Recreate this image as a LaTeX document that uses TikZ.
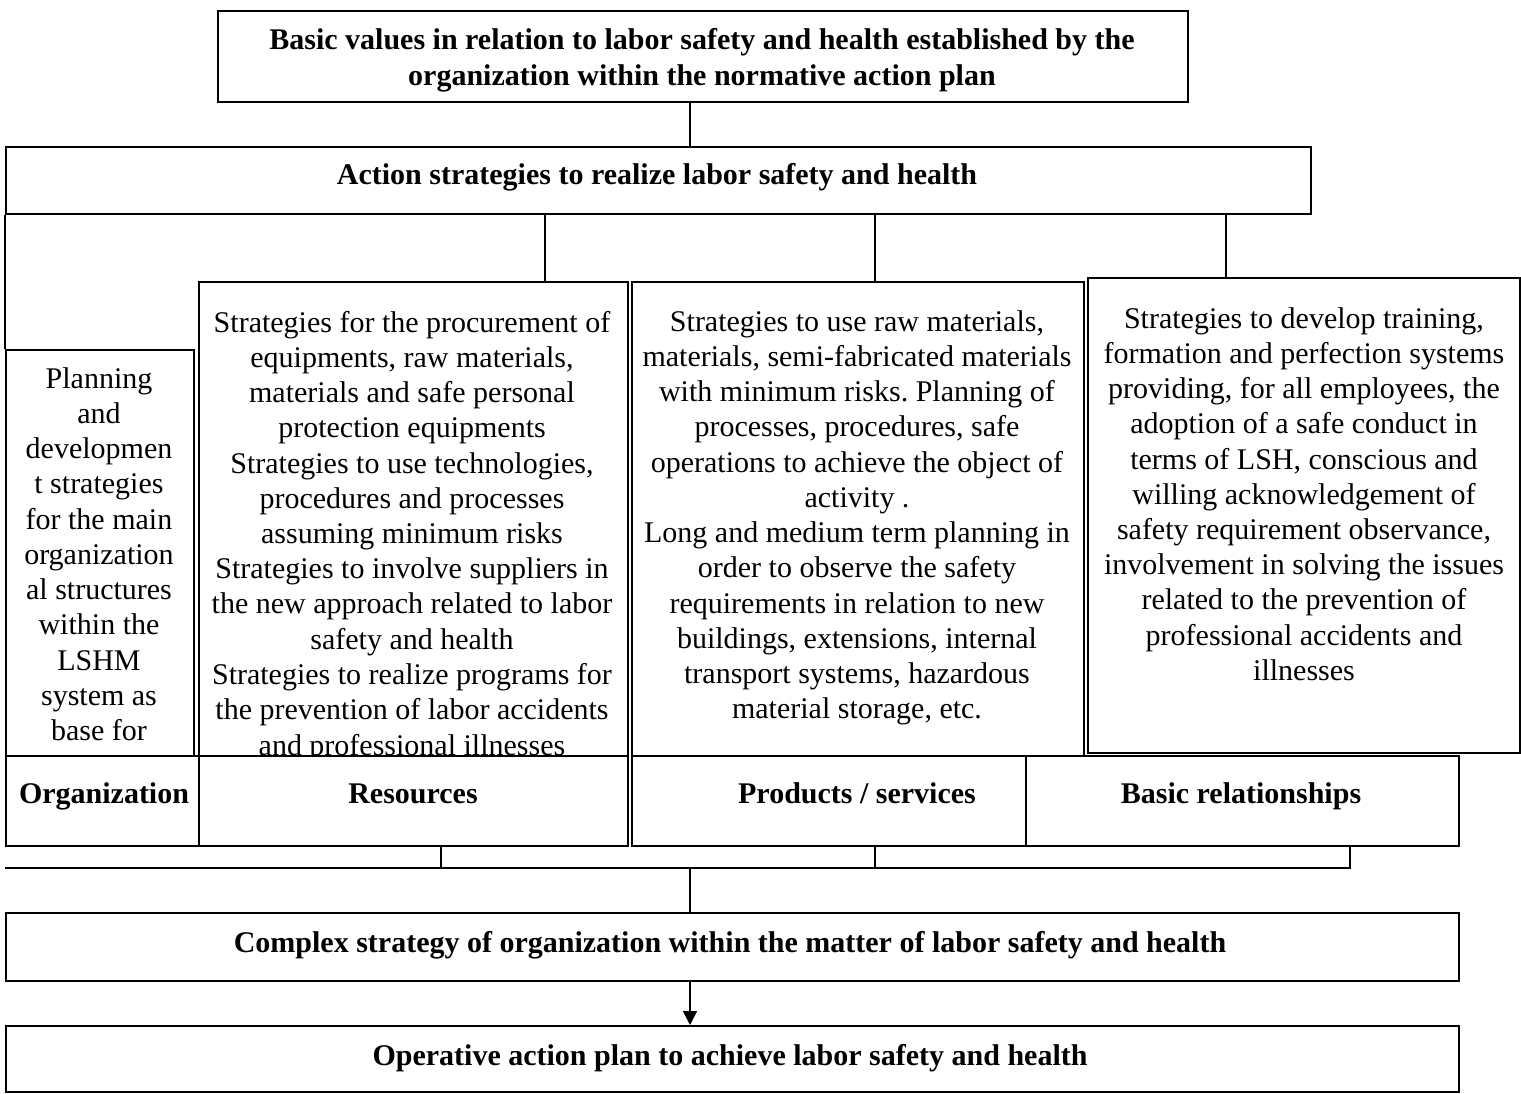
\documentclass[tikz,border=0pt]{standalone}
\usepackage{fontspec}
\setmainfont{Liberation Serif}
\frenchspacing
\usetikzlibrary{positioning}
\usetikzlibrary{arrows.meta}

\tikzset{
  blk/.style={draw, rectangle, line width=1.6pt, inner sep=0pt, anchor=north west},
  lbl/.style={blk, fill=white},
  txt/.style={inner sep=0pt, align=flush center, anchor=base, font=\fontsize{30}{35.25}\selectfont},
  head/.style={txt, font=\fontsize{30}{35.25}\selectfont\bfseries},
  link/.style={line width=1.6pt}
}

\begin{document}
\begin{tikzpicture}[x=1pt, y=-1pt]
    \useasboundingbox (0,0) rectangle (1521,1094);

    % top of the chain
    \node[blk, minimum width=970pt, minimum height=91pt] (values) at (217,10) {};
    \node[head, text width=960pt] (valuesTxt) at (702,50)
        {Basic values in relation to labor safety and health established by the\\
         organization within the normative action plan};
    \node[blk, minimum width=1305pt, minimum height=67pt] (act) at (5,146) {};
    \node[head] (actTxt) at (657,185) {Action strategies to realize labor safety and health};

    % the four strategy columns
    \node[blk, minimum width=188pt, minimum height=406pt] (plan) at (5,349) {};
    \node[txt, text width=180pt] (planTxt) at (99,388)
        {Planning\\ and\\ developmen\\ t strategies\\ for the main\\ organization\\
         al structures\\ within the\\ LSHM\\ system as\\ base for};
    \node[blk, minimum width=429pt, minimum height=564pt] (res) at (198,281) {};
    \node[txt, text width=425pt] (resTxt) at (412,332)
        {Strategies for the procurement of\\ equipments, raw materials,\\
         materials and safe personal\\ protection equipments\\
         Strategies to use technologies,\\ procedures and processes\\
         assuming minimum risks\\ Strategies to involve suppliers in\\
         the new approach related to labor\\ safety and health\\
         Strategies to realize programs for\\ the prevention of labor accidents\\
         and professional illnesses};
    \node[blk, minimum width=452pt, minimum height=564pt] (prod) at (631,281) {};
    \node[txt, text width=448pt] (prodTxt) at (857,331)
        {Strategies to use raw materials,\\ materials, semi-fabricated materials\\
         with minimum risks. Planning of\\ processes, procedures, safe\\
         operations to achieve the object of\\ activity .\\
         Long and medium term planning in\\ order to observe the safety\\
         requirements in relation to new\\ buildings, extensions, internal\\
         transport systems, hazardous\\ material storage, etc.};
    \node[blk, minimum width=432pt, minimum height=475pt] (train) at (1087,277) {};
    \node[txt, text width=428pt] (trainTxt) at (1304,328)
        {Strategies to develop training,\\ formation and perfection systems\\
         providing, for all employees, the\\ adoption of a safe conduct in\\
         terms of LSH, conscious and\\ willing acknowledgement of\\
         safety requirement observance,\\ involvement in solving the issues\\
         related to the prevention of\\ professional accidents and\\ illnesses};

    % label row
    \node[lbl, minimum width=193pt, minimum height=90pt] (org) at (5,755) {};
    \node[lbl, minimum width=429pt, minimum height=90pt] (resLbl) at (198,755) {};
    \node[lbl, minimum width=452pt, minimum height=90pt] (prodLbl) at (631,755) {};
    \node[lbl, minimum width=433pt, minimum height=90pt] (basic) at (1025,755) {};
    \node[head] (orgTxt) at (104,803) {Organization};
    \node[head] (resLblTxt) at (413,803) {Resources};
    \node[head] (prodLblTxt) at (857,803) {Products / services};
    \node[head] (basicTxt) at (1241,803) {Basic relationships};

    % bottom of the chain
    \node[blk, minimum width=1453pt, minimum height=68pt] (cplx) at (5,912) {};
    \node[head] (cplxTxt) at (730,952) {Complex strategy of organization within the matter of labor safety and health};
    \node[blk, minimum width=1453pt, minimum height=66pt] (oper) at (5,1025) {};
    \node[head] (operTxt) at (730,1065) {Operative action plan to achieve labor safety and health};

    \coordinate (join) at (690,868);

    % links down from the strategies
    \draw[link] (690,0 |- values.south) -- (690,0 |- act.north);
    \draw[link] (act.south west) -- (plan.north west);
    \draw[link] (545,0 |- act.south) -- (545,0 |- res.north);
    \draw[link] (875,0 |- act.south) -- (875,0 |- prod.north);
    \draw[link] (1226,0 |- act.south) -- (1226,0 |- train.north);

    % gathering line under the columns
    \draw[link] (441,0 |- resLbl.south) -- (441,0 |- join);
    \draw[link] (875,0 |- prodLbl.south) -- (875,0 |- join);
    \draw[link] (1350,0 |- basic.south) -- (1350,0 |- join) -- (5,0 |- join);
    \draw[link] (join) -- (join |- cplx.north);
    \draw[link, -{Triangle[width=14pt,length=14pt]}] (690,0 |- cplx.south) -- (690,0 |- oper.north);
\end{tikzpicture}
\end{document}
